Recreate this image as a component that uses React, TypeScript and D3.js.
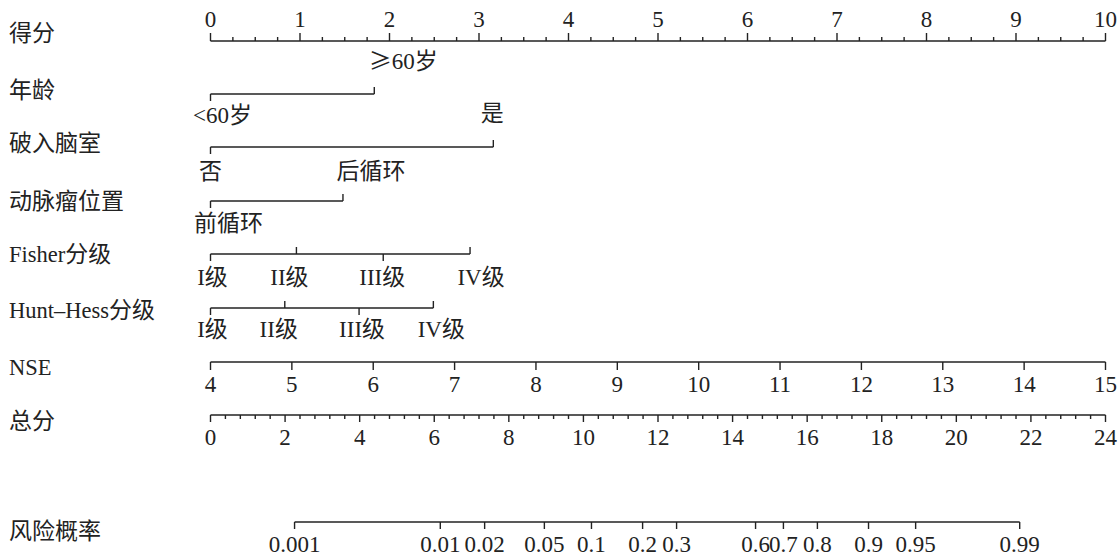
import React from "react";
import * as d3 from "d3";

// ---- Nomogram data ----
const POINT_TICKS = [0, 1, 2, 3, 4, 5, 6, 7, 8, 9, 10];

const AGE_LEVELS = ["<60岁", "≥60岁"];
const AGE_POINTS = [0, 1.83];

const IVH_LEVELS = ["否", "是"];
const IVH_POINTS = [0, 3.16];

const LOC_LEVELS = ["前循环", "后循环"];
const LOC_POINTS = [0, 1.48];

const FISHER_LEVELS = ["I级", "II级", "III级", "IV级"];
const FISHER_POINTS = [0, 0.96, 1.93, 2.9];

const HH_LEVELS = ["I级", "II级", "III级", "IV级"];
const HH_POINTS = [0, 0.83, 1.66, 2.49];

const NSE_TICKS = [4, 5, 6, 7, 8, 9, 10, 11, 12, 13, 14, 15];

const TOTAL_TICKS = [0, 2, 4, 6, 8, 10, 12, 14, 16, 18, 20, 22, 24];

const RISK_TICKS = [0.001, 0.01, 0.02, 0.05, 0.1, 0.2, 0.3, 0.6, 0.7, 0.8, 0.9, 0.95, 0.99];
const RISK_LABELS = ["0.001", "0.01", "0.02", "0.05", "0.1", "0.2", "0.3", "0.6", "0.7", "0.8", "0.9", "0.95", "0.99"];

// linear predictor = intercept + slope * total points
const LP_INTERCEPT = -8.24;
const LP_SLOPE = 0.5915;

const ROW_NAMES = ["得分", "年龄", "破入脑室", "动脉瘤位置", "Fisher分级", "Hunt–Hess分级", "NSE", "总分", "风险概率"];

// ---- Layout / style ----
const W = 1119;
const H = 560;
const X0 = 210.5;
const X1 = 1105.5;
const LATIN = "'Liberation Serif', 'Times New Roman', serif";
const CJK = "'Noto Sans CJK SC', 'Noto Sans CJK JP', sans-serif";
const INK = "#222";
const STROKE = 1.4;
const TICK_FONT = 23;
const CJK_FONT = 23;

const ROW_Y = [41, 94, 147, 201, 254, 308, 362, 415, 522];
const NAME_BASE = [41, 98, 151, 209, 262, 318, 375, 429, 539];

const CJK_RE = /[\u2265\u3000-\u9fff\uff00-\uffef]/;

function splitRuns(s: string) {
  const out: { t: string; cjk: boolean }[] = [];
  for (const ch of s) {
    const c = CJK_RE.test(ch);
    const last = out[out.length - 1];
    if (last && last.cjk === c) last.t += ch;
    else out.push({ t: ch, cjk: c });
  }
  return out;
}

function Label({ x, y, text, anchor = "middle", latinSize = TICK_FONT, cjkSize = CJK_FONT }:
  { x: number; y: number; text: string; anchor?: string; latinSize?: number; cjkSize?: number }) {
  return (
    <text x={x} y={y} textAnchor={anchor} fill={INK}>
      {splitRuns(text).map((r, i) => (
        <tspan key={i} fontFamily={r.cjk ? CJK : LATIN} fontSize={r.cjk ? cjkSize : latinSize}>
          {r.t}
        </tspan>
      ))}
    </text>
  );
}

type CatRow = {
  levels: string[];
  points: number[];
  tickUp: boolean[];
  labelAbove: boolean[];
  nudge: number[];
  above: number;
  below: number;
};

export default function App() {
  const pointsX = d3.scaleLinear().domain([0, 10]).range([X0, X1]);
  const nseX = d3.scaleLinear().domain([4, 15]).range([X0, X1]);
  const totalX = d3.scaleLinear().domain([0, 24]).range([X0, X1]);
  const logit = (p: number) => Math.log(p / (1 - p));
  const riskX = (p: number) => totalX((logit(p) - LP_INTERCEPT) / LP_SLOPE);

  const cats: CatRow[] = [
    { levels: AGE_LEVELS, points: AGE_POINTS, tickUp: [false, true], labelAbove: [false, true], nudge: [12, 29], above: -25, below: 29 },
    { levels: IVH_LEVELS, points: IVH_POINTS, tickUp: [false, true], labelAbove: [false, true], nudge: [0, -1], above: -26, below: 32 },
    { levels: LOC_LEVELS, points: LOC_POINTS, tickUp: [false, true], labelAbove: [false, true], nudge: [18, 28], above: -22, below: 30 },
    { levels: FISHER_LEVELS, points: FISHER_POINTS, tickUp: [false, true, false, true], labelAbove: [false, false, false, false], nudge: [2, -7, -1, 11], above: -24, below: 31 },
    { levels: HH_LEVELS, points: HH_POINTS, tickUp: [false, true, false, true], labelAbove: [false, false, false, false], nudge: [2, -6, 3, 8], above: -24, below: 29 },
  ];

  const pointMinor = d3.range(0, 40).map((i) => i * 0.25).filter((v) => v % 1 !== 0);
  const totalMinor = d3.range(0, 61).map((i) => +(i * 0.4).toFixed(2)).filter((v) => Math.abs(v / 2 - Math.round(v / 2)) > 1e-6);

  const line = (x1: number, y1: number, x2: number, y2: number, key: string) => (
    <line key={key} x1={x1} y1={y1} x2={x2} y2={y2} stroke={INK} strokeWidth={STROKE} />
  );

  return (
    <svg width={W} height={H} style={{ position: "absolute", left: 0, top: 0, background: "#fff" }}>
      <rect width={W} height={H} fill="#fff" />

      {/* row names */}
      {ROW_NAMES.map((n, i) => (
        <Label key={n} x={9} y={NAME_BASE[i]} text={n} anchor="start" latinSize={22.5} cjkSize={CJK_FONT} />
      ))}

      {/* points scale */}
      <g>
        {line(pointsX(0), ROW_Y[0], pointsX(10), ROW_Y[0], "pl")}
        {POINT_TICKS.map((t) => line(pointsX(t), ROW_Y[0], pointsX(t), ROW_Y[0] - 8, "pt" + t))}
        {pointMinor.map((t) => line(pointsX(t), ROW_Y[0], pointsX(t), ROW_Y[0] - 4, "pm" + t))}
        {POINT_TICKS.map((t) => (
          <Label key={"pl" + t} x={pointsX(t)} y={27} text={String(t)} />
        ))}
      </g>

      {/* categorical predictors */}
      {cats.map((c, ri) => {
        const y = ROW_Y[ri + 1];
        const maxP = d3.max(c.points) as number;
        return (
          <g key={"cat" + ri}>
            {line(pointsX(0), y, pointsX(maxP), y, "cl" + ri)}
            {c.points.map((p, i) =>
              line(pointsX(p), y, pointsX(p), c.tickUp[i] ? y - 7 : y + 7, "ct" + ri + "-" + i)
            )}
            {c.levels.map((lv, i) => (
              <Label
                key={"cx" + ri + "-" + i}
                x={pointsX(c.points[i]) + c.nudge[i]}
                y={y + (c.labelAbove[i] ? c.above : c.below)}
                text={lv}
              />
            ))}
          </g>
        );
      })}

      {/* NSE */}
      <g>
        {line(nseX(4), ROW_Y[6], nseX(15), ROW_Y[6], "nl")}
        {NSE_TICKS.map((t) => line(nseX(t), ROW_Y[6], nseX(t), ROW_Y[6] + 8, "nt" + t))}
        {NSE_TICKS.map((t) => (
          <Label key={"nx" + t} x={nseX(t)} y={ROW_Y[6] + 30} text={String(t)} />
        ))}
      </g>

      {/* total points */}
      <g>
        {line(totalX(0), ROW_Y[7], totalX(24), ROW_Y[7], "tl")}
        {TOTAL_TICKS.map((t) => line(totalX(t), ROW_Y[7], totalX(t), ROW_Y[7] + 7, "tt" + t))}
        {totalMinor.map((t) => line(totalX(t), ROW_Y[7], totalX(t), ROW_Y[7] + 4, "tm" + t))}
        {TOTAL_TICKS.map((t) => (
          <Label key={"tx" + t} x={totalX(t)} y={ROW_Y[7] + 30} text={String(t)} />
        ))}
      </g>

      {/* risk */}
      <g>
        {line(riskX(RISK_TICKS[0]), ROW_Y[8], riskX(RISK_TICKS[RISK_TICKS.length - 1]), ROW_Y[8], "rl")}
        {RISK_TICKS.map((p) => line(riskX(p), ROW_Y[8], riskX(p), ROW_Y[8] + 7, "rt" + p))}
        {RISK_TICKS.map((p, i) => (
          <Label key={"rx" + p} x={riskX(p)} y={ROW_Y[8] + 30} text={RISK_LABELS[i]} />
        ))}
      </g>
    </svg>
  );
}
